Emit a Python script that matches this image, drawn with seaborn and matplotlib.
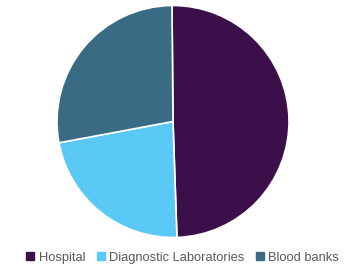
import matplotlib
matplotlib.use("Agg")
import matplotlib.pyplot as plt
import seaborn as sns
from matplotlib.lines import Line2D

categories = ["Hospital", "Diagnostic Laboratories", "Blood banks"]
shares = [49.6, 22.6, 27.8]
colors = ["#3a0f4a", "#5bc9f6", "#3a6b84"]

sns.set_theme(style="white")
plt.rcParams['font.family'] = ['Liberation Sans', 'DejaVu Sans']

fig = plt.figure(figsize=(3.46, 2.73), dpi=100)
ax = fig.add_axes([57/346, (273-237.5)/273, 232/346, 232/273])
ax.pie(shares, colors=sns.color_palette(colors), startangle=90.5, counterclock=False,
       radius=1.0, wedgeprops=dict(edgecolor="white", linewidth=1.2))
ax.set_xlim(-1, 1)
ax.set_ylim(-1, 1)
ax.set_aspect("equal")
ax.axis("off")

handles = [Line2D([0], [0], marker="s", linestyle="none", markersize=5.5,
                  markerfacecolor=c, markeredgecolor=c) for c in colors]
fig.legend(handles, categories, loc="center", bbox_to_anchor=(0.528, 0.055),
           ncol=3, frameon=False, fontsize=9.3, handlelength=0.6, handletextpad=0.35,
           columnspacing=0.9, labelcolor="#595959")

fig.savefig("out.png", dpi=100, facecolor="white")
